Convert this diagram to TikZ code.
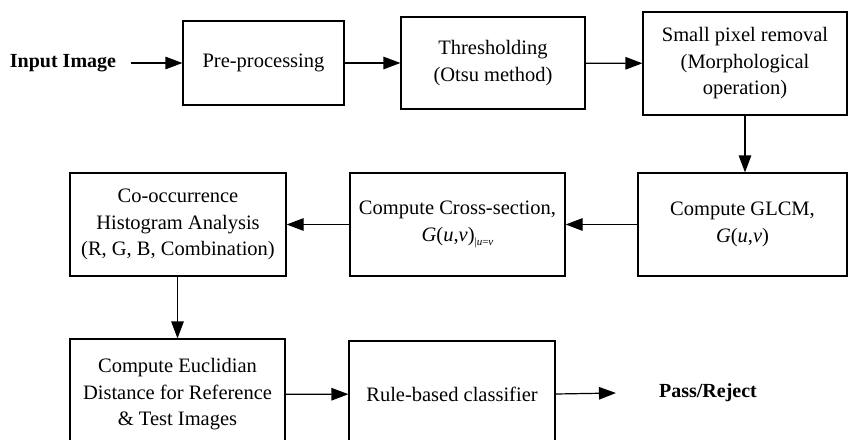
\documentclass[tikz,border=0pt]{standalone}
\usepackage{fontspec}
\setmainfont{Liberation Serif}
\usetikzlibrary{arrows.meta,positioning,calc}

\begin{document}
\begin{tikzpicture}[x=1pt,y=-1pt,
    blk/.style={draw, line width=1.2pt, align=center, inner sep=2pt,
        font=\fontsize{20.5}{26.5}\selectfont},
    lbl/.style={font=\fontsize{20}{24}\selectfont\bfseries, inner sep=0pt},
    arr/.style={-{Triangle[length=17pt,width=12.5pt]}, line width=1.2pt}]
    \useasboundingbox (0,0) rectangle (848,439);
    \clip (0,0) rectangle (848,439);

    % Top row
    \node[lbl] (input) at (63,63) {Input Image};
    \node[blk, minimum width=161pt, minimum height=84pt] (pre) at (263.5,63) {Pre-processing};
    \node[blk, minimum width=184pt, minimum height=92pt] (thr) at (493,63) {Thresholding\\(Otsu method)};
    \node[blk, minimum width=204pt, minimum height=103pt] (spr) at (745,63.5) {Small pixel removal\\(Morphological\\operation)};

    % Middle row
    \node[blk, minimum width=209pt, minimum height=103pt] (glcm) at (742.5,224.5) {Compute GLCM,\\\textit{G}(\textit{u},\textit{v})};
    \node[blk, minimum width=215pt, minimum height=103pt] (cross) at (457.5,224.5)
        {Compute Cross-section,\\\textit{G}(\textit{u},\textit{v})\raisebox{-4pt}{\fontsize{11}{11}\selectfont|\textit{u}=\textit{v}}};
    \node[blk, minimum width=216pt, minimum height=103pt] (cooc) at (178,224.5) {Co-occurrence\\Histogram Analysis\\(R, G, B, Combination)};

    % Bottom row
    \node[blk, minimum width=215pt, minimum height=111pt] (euc) at (177.5,394.5) {Compute Euclidian\\Distance for Reference\\\& Test Images};
    \node[blk, minimum width=206pt, minimum height=106pt] (rule) at (452,394) {Rule-based classifier};
    \node[lbl] (pass) at (708,393) {Pass/Reject};

    % Connections
    \draw[arr] ([xshift=15pt]input.east) -- (pre.west);
    \draw[arr] (pre) -- (thr);
    \draw[arr] (thr) -- (spr);
    \draw[arr] (spr.south) -- (spr.south |- glcm.north);
    \draw[arr] (glcm) -- (cross);
    \draw[arr] (cross) -- (cooc);
    \draw[arr] (cooc.south -| euc.north) -- (euc.north);
    \draw[arr] (euc) -- (rule);
    \draw[arr] (rule.east) -- ([xshift=-43pt]pass.west);
\end{tikzpicture}
\end{document}
